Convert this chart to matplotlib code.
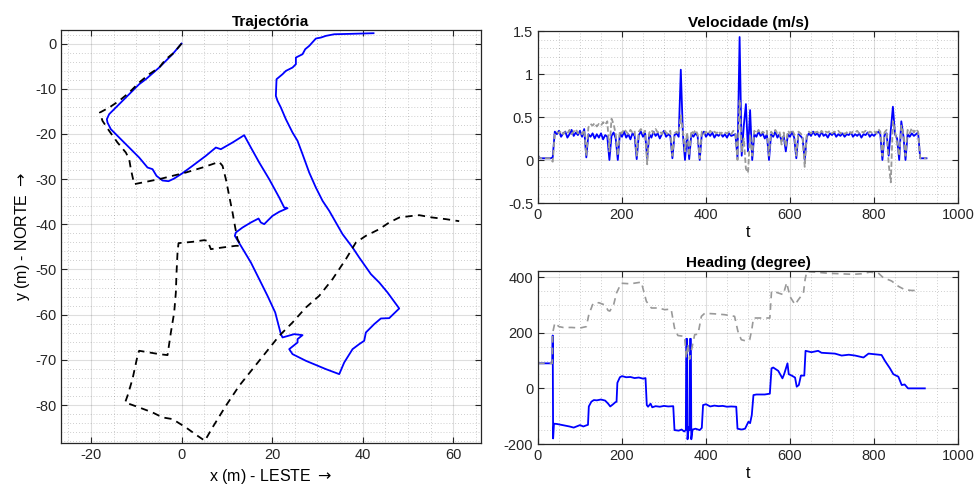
import numpy as np
import matplotlib
matplotlib.use('Agg')
import matplotlib.pyplot as plt
from matplotlib.ticker import MultipleLocator

plt.rcParams['font.family'] = ['Liberation Sans', 'DejaVu Sans']
plt.rcParams['axes.unicode_minus'] = False

# ---- trajectoria (x = leste, y = norte) ----
traj_x = [0, -1.99, -4.93, -7.87, -9.35, -12.29, -14.13, -15.97, -16.48, -16.34,
          -15.60, -13.39, -11.55, -9.35, -7.51, -6.40, -5.52, -4.19, -2.87, -1.62,
          0.22, 2.43, 5.37, 7.58, 8.68, 11.26, 13.83, 15.31, 17.15, 19.35,
          21.56, 22.66, 23.40, 21.56, 20.09, 18.98, 18.25, 17.51, 17.00, 15.31,
          13.47, 11.99, 11.77, 13.10, 15.31, 17.15, 18.98, 20.68, 21.93, 22.30,
          24.87, 26.71, 25.61, 25.61, 23.77, 24.50, 27.45, 31.86, 34.81, 35.91,
          37.75, 39.22, 40.32, 40.69, 42.53, 44.00, 45.84, 48.05, 45.47, 43.64,
          41.80, 39.22, 37.75, 35.54, 34.07, 32.60, 31.13, 29.65, 28.18, 26.71,
          25.61, 24.50, 23.03, 21.93, 21.19, 20.82, 20.97, 22.30, 23.03, 24.50,
          25.24, 25.24, 26.71, 27.30, 28.18, 29.65, 30.76, 31.86, 33.70, 37.01, 42.38]
traj_y = [0, -2.36, -5.31, -7.89, -9.00, -11.95, -13.79, -15.63, -16.74, -17.48,
          -18.95, -21.17, -23.01, -25.22, -27.43, -27.80, -29.28, -30.31, -30.46, -29.87,
          -28.69, -27.06, -24.85, -23.01, -23.38, -21.90, -20.28, -23.01, -26.33, -30.01,
          -34.07, -36.28, -36.43, -37.24, -38.13, -39.23, -39.97, -39.60, -38.72, -39.60,
          -40.71, -41.81, -42.55, -44.76, -48.45, -52.14, -55.83, -59.51, -64.31, -65.04,
          -64.31, -64.53, -65.41, -66.15, -67.63, -68.73, -70.21, -72.05, -73.16, -70.58,
          -67.63, -66.52, -65.78, -63.94, -62.09, -60.84, -60.77, -58.63, -55.09, -52.88,
          -51.03, -47.35, -45.13, -42.18, -39.60, -37.02, -34.81, -31.86, -28.54, -24.48,
          -21.53, -19.69, -16.74, -14.16, -12.68, -11.58, -7.89, -6.78, -6.05, -5.31,
          -4.57, -3.10, -2.36, -1.25, -0.52, 1.11, 1.33, 1.70, 2.06, 2.14, 2.29]

ref_x = [0, -1.62, -3.46, -4.93, -7.14, -9.35, -11.55, -13.76, -15.97, -18.03,
         -17.44, -15.97, -14.13, -12.29, -11.55, -11.18, -10.45, -8.61, -4.93, -1.99,
         0.96, 4.64, 8.31, 9.05, 9.79, 10.52, 11.26, 11.85, 12.36, 13.10,
         11.99, 9.05, 6.48, 5.74, 5.00, 2.43, -0.66, -0.88, -1.10, -1.25,
         -1.62, -2.35, -3.09, -4.93, -7.14, -9.35, -9.71, -10.82, -11.92, -12.44,
         -9.35, -6.40, -4.19, -1.99, 0.96, 3.53, 5.15, 6.84, 9.79, 12.73,
         15.67, 18.62, 21.56, 24.50, 27.45, 30.39, 33.33, 36.28, 38.48, 40.69,
         43.64, 45.84, 48.05, 50.99, 52.46, 55.40, 58.35, 61.29]
ref_y = [0, -1.99, -3.47, -5.31, -6.78, -8.63, -10.84, -12.68, -14.16, -15.27,
         -17.11, -19.32, -21.90, -24.12, -25.59, -27.80, -31.12, -30.75, -30.01, -29.28,
         -28.54, -27.43, -26.18, -27.06, -30.01, -33.70, -37.39, -40.71, -43.29, -44.76,
         -44.76, -45.13, -45.50, -43.66, -43.51, -43.88, -44.17, -46.24, -50.66, -55.09,
         -59.51, -63.94, -68.95, -68.73, -68.36, -67.99, -69.10, -74.26, -77.95, -79.42,
         -80.53, -81.64, -82.74, -83.11, -84.96, -86.80, -87.91, -84.96, -80.16, -75.74,
         -72.05, -68.36, -64.68, -61.73, -58.41, -55.83, -52.14, -47.71, -44.03, -42.55,
         -41.08, -39.60, -38.50, -38.13, -37.98, -38.50, -38.86, -39.31]

# ---- velocidade, amostras de 5 em 5 s ----
vel_t = np.arange(0, 930, 5)
vel_est = [0.05, 0.02, 0.02, 0.02, 0.02, 0.02, 0.02, 0.03, 0.33, 0.30,
           0.34, 0.27, 0.31, 0.33, 0.26, 0.30, 0.35, 0.28, 0.32, 0.29,
           0.34, 0.27, 0.36, 0.03, 0.30, 0.27, 0.31, 0.25, 0.30, 0.26,
           0.31, 0.24, 0.29, 0.27, 0.00, 0.28, 0.32, 0.25, 0.00, 0.31,
           0.27, 0.33, 0.26, 0.30, 0.24, 0.31, 0.28, 0.01, 0.29, 0.33,
           0.27, 0.31, 0.02, 0.30, 0.26, 0.33, 0.28, 0.31, 0.25, 0.30,
           0.34, 0.27, 0.30, 0.28, 0.02, 0.29, 0.31, 0.27, 1.05, 0.30,
           0.00, 0.29, 0.01, 0.30, 0.27, 0.31, 0.28, 0.00, 0.30, 0.33,
           0.27, 0.31, 0.28, 0.32, 0.26, 0.30, 0.28, 0.31, 0.27, 0.30,
           0.26, 0.31, 0.28, 0.29, 0.30, 0.02, 1.43, 0.05, 0.40, 0.65,
           0.10, 0.58, 0.00, 0.30, 0.27, 0.33, 0.28, 0.31, 0.25, 0.30,
           0.00, 0.30, 0.27, 0.33, 0.26, 0.30, 0.22, 0.28, 0.10, 0.30,
           0.27, 0.33, 0.26, 0.02, 0.30, 0.28, 0.25, 0.00, 0.27, 0.31,
           0.28, 0.33, 0.29, 0.31, 0.27, 0.33, 0.28, 0.30, 0.26, 0.31,
           0.29, 0.32, 0.27, 0.30, 0.28, 0.31, 0.27, 0.30, 0.29, 0.32,
           0.27, 0.30, 0.28, 0.31, 0.26, 0.30, 0.29, 0.32, 0.27, 0.30,
           0.28, 0.31, 0.33, 0.30, 0.00, 0.29, 0.31, 0.05, 0.35, 0.62,
           0.30, 0.25, 0.00, 0.45, 0.28, 0.00, 0.30, 0.27, 0.31, 0.28,
           0.30, 0.32, 0.02, 0.02, 0.02, 0.02]
vel_ref = [0.05, 0.02, 0.02, 0.02, 0.02, 0.02, 0.02, -0.02, 0.30, 0.33,
           0.31, 0.34, 0.30, 0.33, 0.31, 0.35, 0.30, 0.33, 0.36, 0.31,
           0.33, 0.30, 0.35, 0.05, 0.38, 0.42, 0.40, 0.43, 0.39, 0.42,
           0.40, 0.44, 0.41, 0.45, 0.10, 0.48, 0.42, 0.30, 0.05, 0.34,
           0.31, 0.36, 0.33, 0.30, 0.35, 0.32, 0.34, 0.05, 0.33, 0.36,
           0.31, 0.34, -0.05, 0.32, 0.35, 0.31, 0.36, 0.32, 0.34, 0.30,
           0.35, 0.32, 0.30, 0.34, 0.05, 0.31, 0.33, 0.30, 0.52, 0.33,
           0.10, 0.32, 0.05, 0.34, 0.31, 0.35, 0.30, 0.02, 0.33, 0.30,
           0.33, 0.30, 0.34, 0.31, 0.33, 0.31, 0.34, 0.30, 0.33, 0.32,
           0.31, 0.33, 0.30, 0.34, 0.32, 0.00, 0.70, 0.10, 0.25, -0.10,
           -0.15, 0.30, 0.05, 0.34, 0.31, 0.35, 0.30, 0.33, 0.31, 0.34,
           0.05, 0.33, 0.30, 0.35, 0.31, 0.33, 0.18, 0.32, 0.15, 0.34,
           0.31, 0.35, 0.30, 0.05, 0.33, 0.31, 0.28, -0.08, 0.30, 0.33,
           0.31, 0.34, 0.32, 0.33, 0.30, 0.34, 0.31, 0.33, 0.32, 0.34,
           0.31, 0.33, 0.32, 0.34, 0.31, 0.33, 0.30, 0.32, 0.34, 0.31,
           0.33, 0.32, 0.34, 0.31, 0.33, 0.32, 0.34, 0.31, 0.33, 0.32,
           0.34, 0.31, 0.36, 0.33, 0.05, 0.32, 0.35, -0.05, -0.26, 0.45,
           0.33, 0.20, 0.05, 0.40, 0.30, 0.05, 0.35, 0.31, 0.37, 0.32,
           0.36, 0.33, 0.02, 0.02, 0.02, 0.02]

# ---- heading ----
hd_t = [0, 34, 35, 36, 38, 45, 55, 65, 75, 85, 95, 100, 108, 115, 119, 121, 127, 133,
        140, 150, 160, 167, 172, 178, 184, 187, 189, 195, 200, 210, 220, 230, 240, 250,
        256, 259, 262, 268, 272, 280, 290, 300, 310, 322, 325, 335, 342, 348, 352, 353,
        355, 356, 359, 361, 362, 364, 365, 368, 375, 385, 390, 393, 400, 410, 420, 430,
        440, 450, 460, 472, 475, 485, 493, 501, 505, 509, 513, 520, 540, 552, 556, 560,
        572, 582, 586, 594, 597, 604, 612, 616, 621, 626, 634, 637, 651, 667, 675, 707,
        723, 740, 755, 775, 787, 818, 826, 838, 846, 858, 866, 873, 881, 921]
hd_est = [90, 90, 190, -180, -127, -128, -131, -134, -137, -141, -135, -132, -137, -133,
          -131, -65, -48, -42, -43, -40, -44, -55, -65, -58, -50, -48, 20, 40, 44, 40,
          41, 37, 39, 35, 37, -60, -66, -55, -68, -64, -66, -63, -65, -64, -150, -152,
          -148, -155, -150, 178, 178, -183, -140, -150, 178, 178, -183, -148, -145, -150,
          -142, -60, -57, -65, -62, -64, -63, -66, -65, -66, -145, -148, -145, -120,
          -125, -96, -24, -22, -22, -19, 72, 75, 63, 36, 51, 90, 51, 46, 39, 6, 12, 46,
          46, 135, 130, 135, 128, 125, 118, 121, 118, 111, 125, 120, 99, 72, 51, 42, 12,
          14, 0, 0]
hr_t = [0, 34, 35, 40, 50, 60, 80, 100, 115, 121, 131, 145, 159, 167, 171, 180, 187,
        198, 220, 246, 258, 270, 286, 302, 317, 325, 333, 349, 353, 357, 361, 373, 381,
        389, 397, 420, 444, 468, 476, 484, 496, 504, 509, 513, 552, 556, 568, 584, 592,
        600, 612, 620, 632, 636, 640, 660, 690, 720, 750, 770, 790, 810, 822, 842, 858,
        873, 889, 905]
hd_ref = [90, 90, 200, 235, 222, 219, 219, 217, 222, 265, 305, 308, 300, 280, 278, 300,
          343, 378, 376, 382, 313, 289, 289, 283, 285, 217, 190, 187, 108, 160, 105, 193,
          195, 259, 270, 268, 265, 259, 205, 175, 170, 175, 211, 253, 253, 349, 345, 337,
          380, 330, 301, 319, 343, 392, 420, 418, 414, 412, 410, 412, 418, 415, 398, 386,
          367, 355, 352, 352]

W, H = 975, 494
fig = plt.figure(figsize=(W / 100, H / 100), dpi=100)

def px_axes(x0, y0, x1, y1):
    return fig.add_axes([x0 / W, 1 - y1 / H, (x1 - x0) / W, (y1 - y0) / H])

def matlab_style(ax, xminor, yminor):
    ax.xaxis.set_minor_locator(MultipleLocator(xminor))
    ax.yaxis.set_minor_locator(MultipleLocator(yminor))
    ax.grid(True, which='major', color='#262626', alpha=0.15, linewidth=0.8)
    ax.grid(True, which='minor', color='#262626', alpha=0.3, linewidth=0.6, linestyle=(0, (1, 2.5)))
    ax.tick_params(which='both', direction='in', top=True, right=True, labelsize=10.5,
                   colors='#262626', labelcolor='#262626')
    ax.tick_params(which='major', length=4, width=0.8)
    ax.tick_params(which='minor', length=0)
    for s in ax.spines.values():
        s.set_color('#262626')
        s.set_linewidth(0.9)
    ax.set_axisbelow(True)

# trajetoria
ax1 = px_axes(61, 30, 481, 443)
ax1.plot(traj_x, traj_y, color='#0000ff', linewidth=1.3)
ax1.plot(ref_x, ref_y, color='black', linewidth=1.3, linestyle=(0, (4, 3)))
ax1.set_xlim(-26.6, 66.1)
ax1.set_ylim(-88.4, 3.0)
ax1.set_xticks([-20, 0, 20, 40, 60])
ax1.set_yticks([0, -10, -20, -30, -40, -50, -60, -70, -80])
matlab_style(ax1, 5, 2)
ax1.set_title('Trajectória', fontsize=11, fontweight='bold', pad=3)
ax1.set_xlabel(r'x (m) - LESTE $\rightarrow$', fontsize=11.5, labelpad=4)
ax1.set_ylabel(r'y (m) - NORTE $\rightarrow$', fontsize=11.5, labelpad=2)

# velocidade
ax2 = px_axes(538, 31, 958, 203)
ax2.plot(vel_t, vel_est, color='#0000ff', linewidth=1.3)
ax2.plot(vel_t, vel_ref, color='#999999', linewidth=1.3, linestyle=(0, (3, 1.5)))
ax2.set_xlim(0, 1000)
ax2.set_ylim(-0.5, 1.5)
ax2.set_xticks([0, 200, 400, 600, 800, 1000])
ax2.set_yticks([-0.5, 0, 0.5, 1, 1.5])
ax2.set_yticklabels(['-0.5', '0', '0.5', '1', '1.5'])
matlab_style(ax2, 50, 0.1)
ax2.set_title('Velocidade (m/s)', fontsize=11, fontweight='bold', pad=3)
ax2.set_xlabel('t', fontsize=11.5, labelpad=2)

# heading
ax3 = px_axes(538, 271, 958, 444)
ax3.plot(hd_t, hd_est, color='#0000ff', linewidth=1.3)
ax3.plot(hr_t, hd_ref, color='#999999', linewidth=1.2, linestyle=(0, (4, 3)))
ax3.set_xlim(0, 1000)
ax3.set_ylim(-200, 422)
ax3.set_xticks([0, 200, 400, 600, 800, 1000])
ax3.set_yticks([-200, 0, 200, 400])
matlab_style(ax3, 50, 50)
ax3.set_title('Heading (degree)', fontsize=11, fontweight='bold', pad=3)
ax3.set_xlabel('t', fontsize=11.5, labelpad=2)

fig.savefig('out.png', dpi=100)
